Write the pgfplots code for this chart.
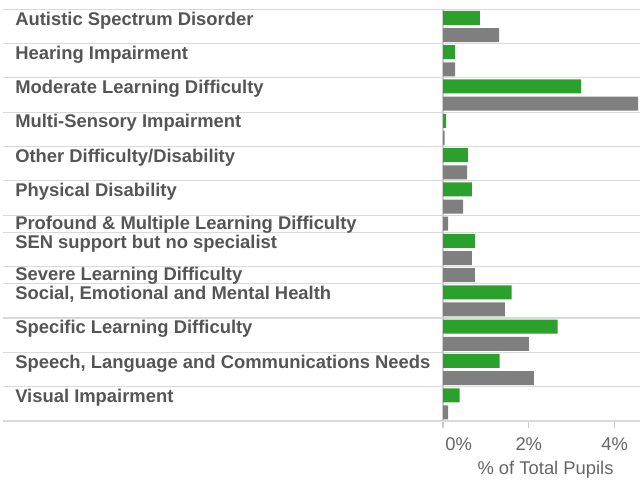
\documentclass[border=0pt]{standalone}
\usepackage{fontspec}
\setmainfont{Liberation Sans}
\usepackage{pgfplots}
\pgfplotsset{compat=1.18}
\definecolor{bargreen}{HTML}{2CA02C}
\definecolor{bargray}{HTML}{7F7F7F}
\definecolor{labelcol}{HTML}{555555}
\definecolor{tickcol}{HTML}{666666}
\definecolor{sepcol}{HTML}{DADADA}
\definecolor{zerocol}{HTML}{CCCCCC}
\begin{document}
\begin{tikzpicture}
\useasboundingbox (0,0) rectangle (480pt,360pt);
\begin{axis}[
  at={(330.75pt,44.25pt)}, anchor=south west,
  scale only axis, width=149.25pt, height=308.8pt,
  xmin=-0.047, xmax=4.592,
  ymin=0, ymax=12, y dir=reverse,
  axis line style={draw=none},
  clip=false,
  ytick=\empty,
  xtick={0,2,4},
  xtick pos=lower,
  xticklabels={\hspace*{23.5pt}0\%, 2\%, 4\%},
  tick align=outside,
  major tick length=5.6pt,
  xtick style={draw=zerocol, line width=1pt},
  xticklabel style={anchor=base, yshift=-16.5pt, font=\fontsize{13.8}{16}\selectfont, text=tickcol, inner sep=0pt},
]
% separators
\pgfplotsinvokeforeach{0,1,2,3,4,5,6,6.5,7.5,8,9,10,11,12}{
  \draw[sepcol, line width=0.9pt] (axis cs:-10.256,#1) -- (axis cs:4.592,#1);
}
\draw[zerocol, line width=1.2pt] (axis cs:0,0) -- (axis cs:0,12);
% green series
\addplot[xbar, bar shift=0pt, bar width=0.408, fill=bargreen, draw=none] coordinates {
  (0.86,0.25) (0.28,1.25) (3.22,2.25) (0.07,3.25) (0.58,4.25) (0.67,5.25)
  (0.74,6.75) (1.60,8.25) (2.67,9.25) (1.32,10.25) (0.39,11.25)
};
% gray series
\addplot[xbar, bar shift=0pt, bar width=0.408, fill=bargray, draw=none] coordinates {
  (1.31,0.75) (0.28,1.75) (4.55,2.75) (0.04,3.75) (0.56,4.75) (0.47,5.75)
  (0.12,6.25) (0.67,7.25) (0.74,7.75) (1.44,8.75) (2.00,9.75) (2.12,10.75) (0.12,11.75)
};
% row labels
\begin{scope}[every node/.style={anchor=base west, inner sep=0pt, text=labelcol, font=\fontsize{13.8}{16}\selectfont\bfseries}]
\node at (axis cs:-9.977,0.46) {Autistic Spectrum Disorder};
\node at (axis cs:-9.977,1.46) {Hearing Impairment};
\node at (axis cs:-9.977,2.46) {Moderate Learning Difficulty};
\node at (axis cs:-9.977,3.46) {Multi-Sensory Impairment};
\node at (axis cs:-9.977,4.46) {Other Difficulty/Disability};
\node at (axis cs:-9.977,5.46) {Physical Disability};
\node at (axis cs:-9.977,6.41) {Profound \& Multiple Learning Difficulty};
\node at (axis cs:-9.977,6.96) {SEN support but no specialist};
\node at (axis cs:-9.977,7.91) {Severe Learning Difficulty};
\node at (axis cs:-9.977,8.46) {Social, Emotional and Mental Health};
\node at (axis cs:-9.977,9.46) {Specific Learning Difficulty};
\node at (axis cs:-9.977,10.46) {Speech, Language and Communications Needs};
\node at (axis cs:-9.977,11.46) {Visual Impairment};
\end{scope}
\node[anchor=base, inner sep=0pt, text=tickcol, font=\fontsize{13.8}{16}\selectfont] at ([yshift=-39.75pt]axis cs:2.39,12) {\% of Total Pupils};
\end{axis}
\end{tikzpicture}
\end{document}
